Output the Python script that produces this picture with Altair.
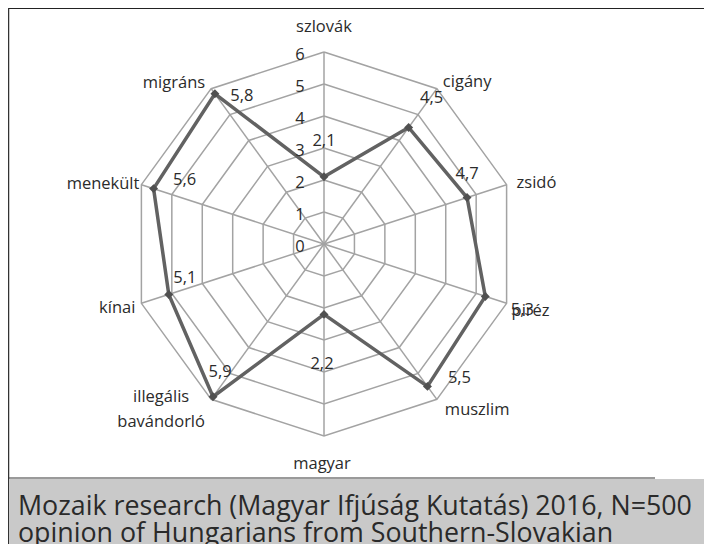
import altair as alt
import numpy as np
import pandas as pd

# ---- data ----
categories = ["szlovák", "cigány", "zsidó", "piréz", "muszlim", "magyar",
              "illegális\nbavándorló", "kínai", "menekült", "migráns"]
values = [2.1, 4.5, 4.7, 5.3, 5.5, 2.2, 5.9, 5.1, 5.6, 5.8]
value_labels = ["2,1", "4,5", "4,7", "5,3", "5,5", "2,2", "5,9", "5,1", "5,6", "5,8"]
ticks = [0, 1, 2, 3, 4, 5, 6]
caption_lines = ["Mozaik research (Magyar Ifjúság Kutatás) 2016, N=500",
                 "opinion of Hungarians from Southern-Slovakian"]

# ---- label placement (pixel offsets, style only) ----
cat_align = ["center", "left", "left", "left", "left", "center", "center", "right", "right", "right"]
cat_off = [(0, -25), (6, -7), (10, -2), (5, 8), (8, 11), (-2, 28), (-50, -2), (-6, 5), (-2, -1), (-6, -6)]
val_off = [(0, -36), (23, -30), (0, -24), (37, 14), (32, -8), (-2, 50), (7, -25), (16, -16), (31, -9), (27, 2)]

W, H = 696, 536
PX = 32.0           # pixels per unit
CX, CY = 316.0, 236.0
xdom = [-CX / PX, (W - CX) / PX]
ydom = [-(H - CY) / PX, CY / PX]
xs = alt.Scale(domain=xdom, nice=False, zero=False)
ys = alt.Scale(domain=ydom, nice=False, zero=False)

n = len(categories)
ang = np.arange(n) * 2 * np.pi / n
rmax = max(ticks)

# grid rings
rows = []
for k in ticks[1:]:
    for j in range(n + 1):
        a = ang[j % n]
        rows.append({"ring": k, "o": j, "x": k * np.sin(a), "y": k * np.cos(a)})
rings = pd.DataFrame(rows)

spokes = pd.DataFrame({"x": 0.0, "y": 0.0,
                       "x2": rmax * np.sin(ang), "y2": rmax * np.cos(ang)})

# series
sr = []
for j in range(n + 1):
    i = j % n
    sr.append({"o": j, "x": values[i] * np.sin(ang[i]), "y": values[i] * np.cos(ang[i])})
series = pd.DataFrame(sr)
pts = series.iloc[:n]

vl = pd.DataFrame({
    "t": value_labels,
    "x": [values[i] * np.sin(ang[i]) + val_off[i][0] / PX for i in range(n)],
    "y": [values[i] * np.cos(ang[i]) - val_off[i][1] / PX for i in range(n)],
})

cl = pd.DataFrame({
    "t": categories,
    "al": cat_align,
    "x": [rmax * np.sin(ang[i]) + cat_off[i][0] / PX for i in range(n)],
    "y": [rmax * np.cos(ang[i]) - cat_off[i][1] / PX for i in range(n)],
})

tk = pd.DataFrame({"t": [str(t) for t in ticks], "x": 0.0, "y": [float(t) for t in ticks]})

FONT = "Open Sans"
FS = 16.5
GRID = "#a3a3a3"
TXT = "#2b2b2b"

ring_layer = alt.Chart(rings).mark_line(color=GRID, strokeWidth=1.5).encode(
    x=alt.X("x:Q", scale=xs, axis=None), y=alt.Y("y:Q", scale=ys, axis=None),
    detail="ring:N", order="o:Q")

spoke_layer = alt.Chart(spokes).mark_rule(color=GRID, strokeWidth=1.5).encode(
    x=alt.X("x:Q", scale=xs, axis=None), y=alt.Y("y:Q", scale=ys, axis=None),
    x2="x2:Q", y2="y2:Q")

tick_layer = alt.Chart(tk).mark_text(font=FONT, fontSize=FS, color=TXT, dx=-24, dy=3,
                                     align="center", baseline="middle").encode(
    x=alt.X("x:Q", scale=xs, axis=None), y=alt.Y("y:Q", scale=ys, axis=None), text="t:N")

line_layer = alt.Chart(series).mark_line(color="#626262", strokeWidth=3.5).encode(
    x=alt.X("x:Q", scale=xs, axis=None), y=alt.Y("y:Q", scale=ys, axis=None), order="o:Q")

pt_layer = alt.Chart(pts).mark_point(shape="diamond", filled=True, size=80, color="#505050", opacity=1).encode(
    x=alt.X("x:Q", scale=xs, axis=None), y=alt.Y("y:Q", scale=ys, axis=None))

val_layer = alt.Chart(vl).mark_text(font=FONT, fontSize=FS, color=TXT,
                                    align="center", baseline="middle").encode(
    x=alt.X("x:Q", scale=xs, axis=None), y=alt.Y("y:Q", scale=ys, axis=None), text="t:N")

cat_layers = []
for a in ["left", "center", "right"]:
    cat_layers.append(
        alt.Chart(cl).transform_filter(alt.datum.al == a).mark_text(
            font=FONT, fontSize=FS, color=TXT, align=a, baseline="middle",
            lineBreak="\n", lineHeight=25).encode(
            x=alt.X("x:Q", scale=xs, axis=None), y=alt.Y("y:Q", scale=ys, axis=None), text="t:N"))

one = alt.Data(values=[{"a": 1}])
box = alt.Chart(one).mark_rect(color="#c9c9c9").encode(
    x=alt.value(2), x2=alt.value(W), y=alt.value(471), y2=alt.value(H))
sep = alt.Chart(one).mark_rule(color="#9a9a9a", strokeWidth=2).encode(
    x=alt.value(0), x2=alt.value(647), y=alt.value(470))
top = alt.Chart(one).mark_rule(color="#222222", strokeWidth=2).encode(
    x=alt.value(0), x2=alt.value(W), y=alt.value(0))
left = alt.Chart(one).mark_rule(color="#333333", strokeWidth=2.5).encode(
    x=alt.value(0), y=alt.value(0), y2=alt.value(H))

caps = []
for i, txt in enumerate(caption_lines):
    caps.append(alt.Chart(pd.DataFrame({"t": [txt]})).mark_text(
        font="Open Sans", fontSize=26.8, color="#2a2a2a", align="left", baseline="alphabetic").encode(
        x=alt.value(10), y=alt.value(507 + 27 * i), text="t:N"))

chart = alt.layer(box, sep, top, left, ring_layer, spoke_layer, line_layer, pt_layer,
                  tick_layer, val_layer, *cat_layers, *caps).properties(
    width=W, height=H, padding=0, autosize=alt.AutoSizeParams(type="none"),
    background="white").configure_view(stroke=None)

chart.save("out.html", embed_options={"renderer": "svg", "actions": False})
